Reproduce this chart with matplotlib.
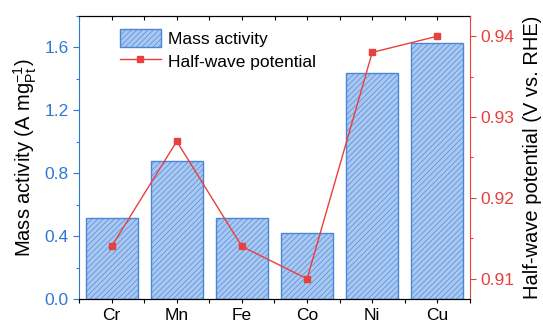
import numpy as np
import matplotlib.pyplot as plt
from matplotlib.ticker import MultipleLocator, FixedLocator

# data
metals = ['Cr', 'Mn', 'Fe', 'Co', 'Ni', 'Cu']
mass_activity = [0.518, 0.875, 0.518, 0.419, 1.44, 1.627]
half_wave = [0.914, 0.927, 0.914, 0.910, 0.938, 0.940]

blue = '#2f78d6'
red = '#e8403c'

plt.rcParams['font.family'] = ['Liberation Sans', 'DejaVu Sans']
plt.rcParams['hatch.linewidth'] = 0.45

fig = plt.figure(figsize=(5.43, 3.25), dpi=100)
ax = fig.add_axes([79 / 543, 1 - 299 / 325, (470 - 79) / 543, (299 - 16) / 325])
x = np.arange(len(metals))

bars = ax.bar(x, mass_activity, width=0.8, facecolor='#a9c8f1', edgecolor='#4a86d8',
              hatch='//////', linewidth=1.0, label='Mass activity', zorder=2)
ax.set_xlim(-0.5, 5.5)
ax.set_ylim(0, 1.8)
ax.set_xticks(x)
ax.set_xticklabels(metals, fontsize=12.5)
ax.xaxis.set_minor_locator(FixedLocator(np.arange(-0.5, 6, 1)))
ax.tick_params(axis='x', which='both', direction='out', length=3, width=0.8)
# top axis ticks point inward
sec = ax.secondary_xaxis('top')
sec.set_xticks(x)
sec.xaxis.set_minor_locator(FixedLocator(np.arange(-0.5, 6, 1)))
sec.tick_params(axis='x', which='both', direction='in', length=3, width=0.8, labeltop=False)
sec.spines['top'].set_linewidth(0.8)

ax.yaxis.set_major_locator(MultipleLocator(0.4))
ax.yaxis.set_minor_locator(MultipleLocator(0.2))
ax.tick_params(axis='y', which='major', colors=blue, labelsize=12.5, length=4, width=0.8)
ax.tick_params(axis='y', which='minor', colors=blue, length=2.5, width=0.8)
ax.set_ylabel('Mass activity (A mg$_{\\mathregular{Pt}}^{\\mathregular{-1}}$)', fontsize=14.5, labelpad=4)
ax.spines['left'].set_color(blue)
ax.spines['right'].set_visible(False)
for s in ['top', 'bottom', 'left']:
    ax.spines[s].set_linewidth(0.8)

ax2 = ax.twinx()
line, = ax2.plot(x, half_wave, color=red, marker='s', markersize=4.5, linewidth=1.0,
                 label='Half-wave potential', zorder=3)
ax2.set_ylim(0.9075, 0.9425)
ax2.yaxis.set_major_locator(MultipleLocator(0.01))
ax2.yaxis.set_minor_locator(MultipleLocator(0.005))
ax2.tick_params(axis='y', which='major', colors=red, labelsize=12.5, length=4, width=0.8)
ax2.tick_params(axis='y', which='minor', colors=red, length=2.5, width=0.8)
ax2.set_ylabel('Half-wave potential (V vs. RHE)', fontsize=14.5, labelpad=6)
ax2.spines['right'].set_color(red)
ax2.spines['right'].set_linewidth(0.8)
ax2.spines['left'].set_visible(False)
ax2.spines['top'].set_visible(False)

ax2.legend([bars, line], ['Mass activity', 'Half-wave potential'], loc='upper left',
           bbox_to_anchor=(0.065, 1.01), frameon=False, fontsize=12.5,
           handlelength=2.35, handleheight=1.2, handletextpad=0.4, labelspacing=0.3)

fig.savefig('out.png', dpi=100)
